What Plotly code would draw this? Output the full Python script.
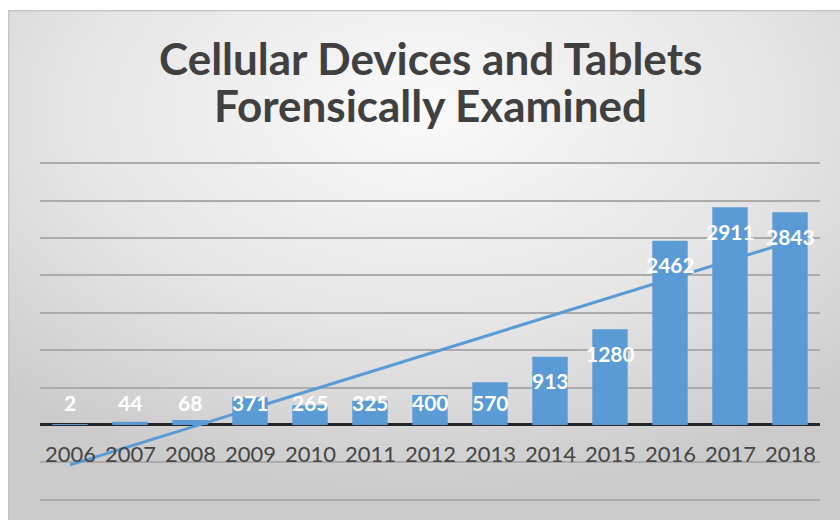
import base64
import numpy as np
import plotly.graph_objects as go

years = ["2006", "2007", "2008", "2009", "2010", "2011", "2012",
         "2013", "2014", "2015", "2016", "2017", "2018"]
devices = [2, 44, 68, 371, 265, 325, 400, 570, 913, 1280, 2462, 2911, 2843]
title_lines = ["Cellular Devices and Tablets", "Forensically Examined"]

BLUE = "#5b9bd5"
FONT = "Lato"

idx = np.arange(len(years))
# linear trendline (least squares fit of the series)
slope, intercept = np.polyfit(idx, devices, 1)
trend = slope * idx + intercept

fig = go.Figure()
fig.add_trace(go.Bar(x=idx, y=devices, marker_color=BLUE, marker_line_width=0,
                     width=0.59, hoverinfo="skip"))
fig.add_trace(go.Scatter(x=idx, y=trend, mode="lines",
                         line=dict(color=BLUE, width=3), hoverinfo="skip"))

annotations = []
for i, (yr, v) in enumerate(zip(years, devices)):
    annotations.append(dict(x=i, y=max(v, 620), xref="x", yref="y", text=f"<b>{v}</b>",
                            showarrow=False, yshift=-24,
                            font=dict(family=FONT, size=21, color="white")))
    annotations.append(dict(x=i, y=-375, xref="x", yref="y", text=yr,
                            showarrow=False,
                            font=dict(family=FONT, size=22, color="#454545")))

L, R, T, B = 40, 20, 161, 18
pw, ph = 840 - L - R, 520 - T - B

for i, line in enumerate(title_lines):
    annotations.append(dict(x=0.5, xref="paper", y=1.0, yref="paper", yanchor="middle",
                            yshift=(T - 58) - 47 * i,
                            text=f"<b>{line}</b>", showarrow=False,
                            font=dict(family=FONT, size=44, color="#404040")))

svg = """<svg xmlns='http://www.w3.org/2000/svg' width='832' height='510' viewBox='0 0 832 510' preserveAspectRatio='none'>
<defs><radialGradient id='g' cx='0.5' cy='0.2' r='0.75'>
<stop offset='0' stop-color='#fafafa'/><stop offset='0.55' stop-color='#e6e6e6'/>
<stop offset='1' stop-color='#cbcbcb'/></radialGradient></defs>
<rect x='0' y='0' width='832' height='510' fill='url(#g)'/>
<rect x='0.5' y='0.5' width='840' height='520' fill='none' stroke='#c4c4c4' stroke-width='1.5'/>
</svg>"""
src = "data:image/svg+xml;base64," + base64.b64encode(svg.encode()).decode()

fig.add_layout_image(dict(source=src, xref="paper", yref="paper",
                          x=(8 - L) / pw, y=(520 - B - 10) / ph,
                          sizex=832 / pw, sizey=510 / ph,
                          xanchor="left", yanchor="top", sizing="stretch", layer="below"))

fig.update_layout(
    width=840, height=520,
    margin=dict(l=L, r=R, t=T, b=B),
    paper_bgcolor="white", plot_bgcolor="rgba(0,0,0,0)",
    showlegend=False,
    annotations=annotations,
    xaxis=dict(range=[-0.5, len(years) - 0.5], showticklabels=False, showgrid=False,
               zeroline=False, showline=False, ticks=""),
    yaxis=dict(range=[-1030, 3530], dtick=500, showticklabels=False, ticks="",
               showgrid=True, gridcolor="#ababab", gridwidth=1.5,
               zeroline=True, zerolinecolor="#262626", zerolinewidth=3),
)

fig.write_html("out.html")
